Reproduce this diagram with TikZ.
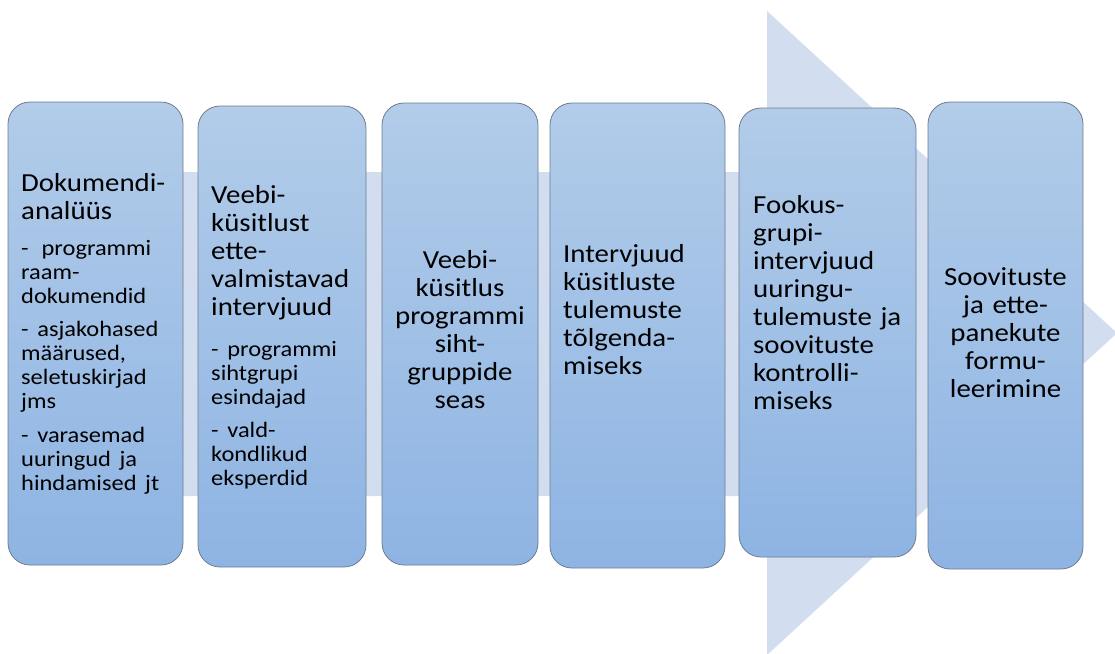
\documentclass[tikz,border=0pt]{standalone}
\usepackage{fontspec}
\setmainfont{Carlito}[FakeStretch=1.11]
\definecolor{arrowfill}{HTML}{D2DEEF}
\definecolor{boxtop}{HTML}{B2CCE9}
\definecolor{boxbottom}{HTML}{8EB4E3}
\definecolor{boxline}{HTML}{6E7C8E}
\newcommand{\boxtitle}{\fontsize{26}{28}\selectfont}
\newcommand{\boxitem}{\fontsize{22}{24}\selectfont}
\tikzset{
    stepbox/.style={draw=boxline, line width=0.8pt, rounded corners=22pt,
        top color=boxtop, bottom color=boxbottom, inner sep=0pt},
    steptext/.style={inner sep=0pt, text width=160pt, align=left, font=\boxtitle},
}
\begin{document}
\begin{tikzpicture}[x=1pt, y=-1pt]
        \useasboundingbox (0,0) rectangle (1115,653);
        \fill[arrowfill] (10,172) -- (767,172) -- (767,11) -- (1117,333) -- (767,655) -- (767,496) -- (10,496) -- cycle;
        \node[stepbox, minimum width=175pt, minimum height=463pt] (b1) at (95.5,333.5) {};
        \node[stepbox, minimum width=168pt, minimum height=461pt] (b2) at (282,336.5) {};
        \node[stepbox, minimum width=156pt, minimum height=462pt] (b3) at (460,334) {};
        \node[stepbox, minimum width=175pt, minimum height=465pt] (b4) at (637.5,335.5) {};
        \node[stepbox, minimum width=177pt, minimum height=449pt] (b5) at (827.5,332.5) {};
        \node[stepbox, minimum width=155pt, minimum height=467pt] (b6) at (1005.5,335.5) {};
        \node[steptext, anchor=base west] (t1) at (21,191) {%
            {\boxtitle Dokumendi-\\analüüs\par}\vspace{12pt}
            {\boxitem -\hspace{13pt}programmi\\raam-\\dokumendid\par}\vspace{9pt}
            {\boxitem - asjakohased\\määrused,\\seletuskirjad\\jms\par}\vspace{10pt}
            {\boxitem - varasemad\\uuringud ja\\hindamised jt\par}};
        \node[steptext, anchor=base west, text width=150pt] (t2) at (211,203) {%
            {\boxtitle Veebi-\\küsitlust\\ette-\\valmistavad\\intervjuud\par}\vspace{17pt}
            {\boxitem - programmi\\sihtgrupi\\esindajad\par}\vspace{9pt}
            {\boxitem - vald-\\kondlikud\\eksperdid\par}};
        \node[steptext, anchor=base, text width=150pt, align=center] (t3) at (460,268)
            {Veebi-\\küsitlus\\programmi\\siht-\\gruppide\\seas};
        \node[steptext, anchor=base west] (t4) at (563,262)
            {Intervjuud\\küsitluste\\tulemuste\\tõlgenda-\\miseks};
        \node[steptext, anchor=base west] (t5) at (753,213)
            {Fookus-\\grupi-\\intervjuud\\uuringu-\\tulemuste ja\\soovituste\\kontrolli-\\miseks};
        \node[steptext, anchor=base, text width=150pt, align=center] (t6) at (1005.5,285)
            {Soovituste\\ja ette-\\panekute\\formu-\\leerimine};
    \end{tikzpicture}
\end{document}
